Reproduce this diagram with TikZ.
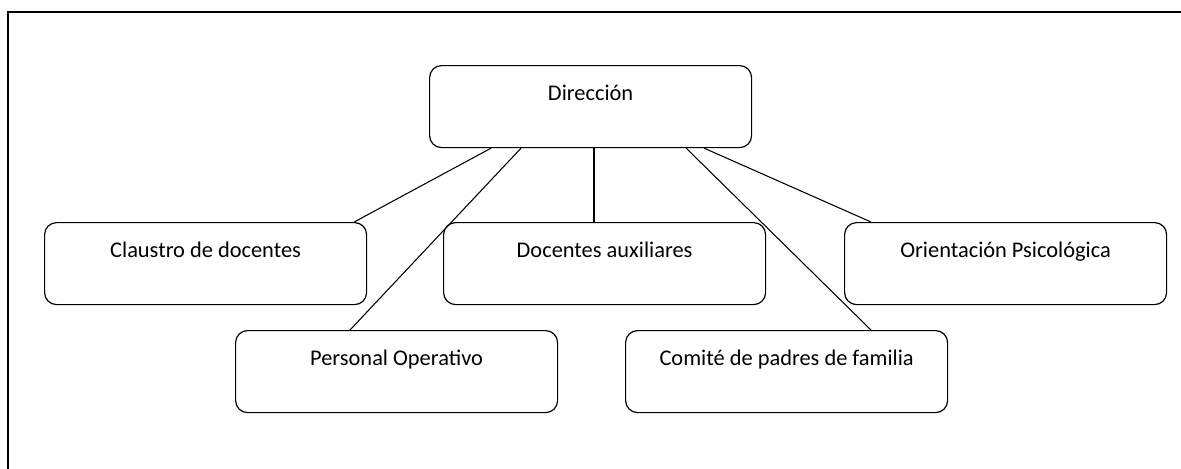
\documentclass[tikz,border=0pt]{standalone}
\usepackage{fontspec}
\setmainfont{Carlito}
\usetikzlibrary{calc}
\begin{document}
\begin{tikzpicture}[x=0.75pt,y=-0.75pt,
  box/.style={draw, line width=0.9pt, rounded corners=9pt, minimum width=241.5pt,
    inner sep=0pt, text height=26.5pt, text depth=35pt, anchor=north west,
    font=\fontsize{16.8}{19}\selectfont},
  link/.style={line width=0.8pt}]
\useasboundingbox (0,0) rectangle (1181,468);
\draw[line width=2pt] (8,469) -- (8,12) -- (1182,12);
\node[box] (dir)  at (429,65)  {Dirección};
\node[box] (clau) at (44,222)  {Claustro de docentes};
\node[box] (doc)  at (443,222) {Docentes auxiliares};
\node[box] (ori)  at (844,222) {Orientación Psicológica};
\node[box] (pers) at (235,330) {Personal Operativo};
\node[box] (com)  at (625,330) {Comité de padres de familia};
\draw[link] ($(dir.south west)+(62,0)$) -- ($(clau.north east)+(-13,0)$);
\draw[link] ($(dir.south west)+(92,0)$) -- ($(pers.north west)+(115,0)$);
\draw[link] ($(dir.south west)+(165,0)$) -- ($(doc.north west)+(151,0)$);
\draw[link] ($(dir.south east)+(-66,0)$) -- ($(com.north west)+(246,0)$);
\draw[link] ($(dir.south east)+(-48,0)$) -- ($(ori.north west)+(27,0)$);
\end{tikzpicture}
\end{document}
